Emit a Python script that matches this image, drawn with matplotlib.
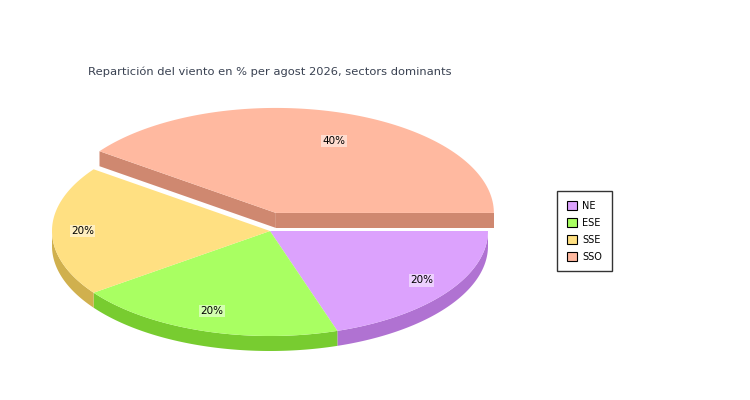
import numpy as np
import matplotlib
matplotlib.use("Agg")
import matplotlib.pyplot as plt
from matplotlib.patches import Patch

# chart data
sectors = ["NE", "ESE", "SSE", "SSO"]
percent = [20, 20, 20, 40]
exploded = [False, False, False, True]
title = "Repartición del viento en % per agost 2026, sectors dominants"

top_colours = ["#dca2fd", "#a9ff62", "#ffe082", "#ffb9a0"]
side_colours = ["#b072d2", "#78cc30", "#d0b04e", "#cf8870"]

# geometry in pixels
cx, cy = 270, 231
rx, ry = 218, 105
depth = 15
explode_dist = 19


def pt(x0, y0, a):
    r = np.radians(a)
    return x0 + rx * np.cos(r), y0 - ry * np.sin(r)


fig = plt.figure(figsize=(7.5, 4), dpi=100)
ax = fig.add_axes([0, 0, 1, 1])
ax.set_xlim(0, 750)
ax.set_ylim(400, 0)
ax.axis("off")

total = float(sum(percent))
cum = np.concatenate([[0], np.cumsum(percent)]) / total * 360.0

slices = []
for i in range(len(percent)):
    a0, a1 = -cum[i], -cum[i + 1]
    mid = (a0 + a1) / 2
    ox, oy = cx, cy
    if exploded[i]:
        ox += explode_dist * np.cos(np.radians(mid))
        oy -= explode_dist * np.sin(np.radians(mid))
    slices.append((a0, a1, mid, ox, oy))

# side walls first
for i, (a0, a1, mid, ox, oy) in enumerate(slices):
    # outer rim, only the part facing the viewer
    for k in range(-2, 1):
        lo = max(a1, -180 + 360 * k)
        hi = min(a0, 360 * k)
        if hi - lo > 0.01:
            aa = np.linspace(hi, lo, 80)
            xs, ys = pt(ox, oy, aa)
            px = np.concatenate([xs, xs[::-1]])
            py = np.concatenate([ys, ys[::-1] + depth])
            ax.fill(px, py, color=side_colours[i], lw=0)
    # radial edges of the pulled out slice
    if exploded[i]:
        for a in (a0, a1):
            ex, ey = pt(ox, oy, a)
            ax.fill([ox, ex, ex, ox], [oy, ey, ey + depth, oy + depth],
                    color=side_colours[i], lw=0)

# top faces
for i, (a0, a1, mid, ox, oy) in enumerate(slices):
    aa = np.linspace(a0, a1, 120)
    xs, ys = pt(ox, oy, aa)
    ax.fill(np.concatenate([[ox], xs]), np.concatenate([[oy], ys]),
            color=top_colours[i], lw=0)
    lx = ox + 0.86 * rx * np.cos(np.radians(mid))
    ly = oy - 0.8 * ry * np.sin(np.radians(mid))
    if exploded[i]:
        ly += 8
    ax.text(lx, ly, "%d%%" % round(percent[i] / total * 100), fontsize=7.5,
            ha="center", va="center", color="black", family="DejaVu Sans",
            bbox=dict(boxstyle="square,pad=0.12", fc="white", ec="none", alpha=0.5))

# title, scaled to the reference width
t = ax.text(88, 72, title, fontsize=9, ha="left", va="center",
            color="#3a4252", family="DejaVu Sans")
fig.canvas.draw()
w = t.get_window_extent().width
t.set_fontsize(9 * 363.0 / w)

handles = [Patch(facecolor=c, edgecolor="black", linewidth=0.8) for c in top_colours]
leg = fig.legend(handles, sectors, loc="upper left",
                 bbox_to_anchor=(557 / 750, 1 - 191 / 400),
                 fontsize=7, frameon=True, fancybox=False, shadow=False,
                 borderaxespad=0, borderpad=1.0, handlelength=1.05,
                 handleheight=1.1, handletextpad=0.55, labelspacing=0.72)
leg.get_frame().set_edgecolor("black")
leg.get_frame().set_linewidth(1)

fig.savefig("out.png", dpi=100)
